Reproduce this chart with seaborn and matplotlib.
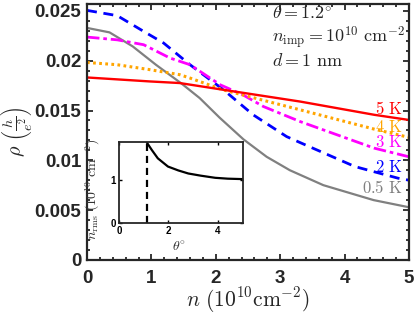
import matplotlib as mpl
mpl.use("Agg")
import matplotlib.pyplot as plt
from matplotlib.ticker import AutoMinorLocator, FuncFormatter
import seaborn as sns

# rho(n), one set per temperature
n_05K = [0.0, 0.35, 0.71, 1.07, 1.47, 1.75, 2.06, 2.43, 2.79, 3.15, 3.67, 4.45, 5.0]
rho_05K = [0.0233, 0.02285, 0.02144, 0.0196, 0.0177, 0.01625, 0.01428, 0.0121,
           0.01035, 0.0090, 0.0075, 0.0060, 0.00528]

n_2K = [0.0, 0.47, 0.88, 1.19, 1.6, 2.12, 2.58, 3.1, 3.33, 4.16, 4.83, 5.0]
rho_2K = [0.02506, 0.02453, 0.02295, 0.02178, 0.0196, 0.01708, 0.01457, 0.01238,
          0.01172, 0.00937, 0.0082, 0.0080]

n_3K = [0.0, 0.47, 0.88, 1.29, 1.6, 2.07, 2.42, 2.74, 3.31, 4.46, 5.0]
rho_3K = [0.02238, 0.0221, 0.02161, 0.02027, 0.0196, 0.01758, 0.01658, 0.0154,
          0.01389, 0.01122, 0.01035]

n_4K = [0.0, 0.47, 0.98, 1.44, 1.6, 2.11, 3.31, 4.46, 5.0]
rho_4K = [0.01983, 0.0196, 0.0191, 0.0186, 0.01826, 0.01708, 0.01507, 0.01313, 0.0123]

n_5K = [0.0, 0.98, 1.44, 2.12, 3.31, 4.46, 5.0]
rho_5K = [0.01832, 0.01792, 0.01776, 0.01708, 0.0159, 0.01457, 0.01405]

# inset: n_rms vs twist angle
theta_deg = [1.12, 1.33, 1.57, 1.98, 2.4, 2.8, 3.3, 3.89, 4.4, 5.0]
n_rms = [1.87, 1.69, 1.50, 1.31, 1.22, 1.15, 1.10, 1.05, 1.03, 1.02]
theta_mark = 1.12

temp_labels = ["0.5 K", "2 K", "3 K", "4 K", "5 K"]

AX_COLOR = "#262626"

sns.set_style("ticks")
mpl.rcParams["font.family"] = ["Liberation Sans", "DejaVu Sans"]
mpl.rcParams["mathtext.fontset"] = "cm"
mpl.rcParams["axes.edgecolor"] = AX_COLOR
mpl.rcParams["xtick.color"] = AX_COLOR
mpl.rcParams["ytick.color"] = AX_COLOR

fig = plt.figure(figsize=(4.15, 3.16), dpi=100)
ax = fig.add_axes([0.2096, 0.1778, 0.7759, 0.8095])

curves = [
    (n_05K, rho_05K, "#808080", "-", 1.6),
    (n_2K, rho_2K, "#0000ff", (0, (3.6, 2.4)), 2.0),
    (n_3K, rho_3K, "#ff00ff", (0, (4.5, 1.4, 1.3, 1.4)), 2.0),
    (n_4K, rho_4K, "#ffa500", (0, (0.9, 1.1)), 2.2),
    (n_5K, rho_5K, "#ff0000", "-", 1.7),
]
for x, y, col, ls, lw in curves:
    sns.lineplot(x=x, y=y, ax=ax, color=col, linestyle=ls, linewidth=lw)

ax.set_xlim(0, 5)
ax.set_ylim(0, 0.0257)
ax.set_xticks([0, 1, 2, 3, 4, 5])
ax.set_yticks([0, 0.005, 0.01, 0.015, 0.02, 0.025])
ax.yaxis.set_major_formatter(FuncFormatter(lambda v, p: "%g" % v))
ax.xaxis.set_minor_locator(AutoMinorLocator(5))
ax.yaxis.set_minor_locator(AutoMinorLocator(5))
ax.tick_params(which="both", direction="in", top=True, right=True, width=1.3)
ax.tick_params(which="major", length=4, labelsize=13.5)
ax.tick_params(which="minor", length=2.5)
ax.tick_params(axis="x", pad=7)
ax.tick_params(axis="y", pad=4)
for lbl in ax.get_xticklabels() + ax.get_yticklabels():
    lbl.set_fontweight("bold")
for sp in ax.spines.values():
    sp.set_linewidth(1.6)

ax.set_xlabel(r"$n\ (10^{10}\mathrm{cm}^{-2})$", fontsize=15.5)
ax.set_ylabel(r"$\rho\ \left(\frac{h}{e^2}\right)$", fontsize=14.5)
ax.xaxis.set_label_coords(0.5, -0.1)
ax.yaxis.set_label_coords(-0.166, 0.5)

ax.text(0.574, 0.94, r"$\theta = 1.2^{\circ}$", transform=ax.transAxes,
        fontsize=13, va="baseline")
ax.text(0.574, 0.847, r"$n_{\rm imp} = 10^{10}\ \mathrm{cm}^{-2}$",
        transform=ax.transAxes, fontsize=13, va="baseline")
ax.text(0.574, 0.757, r"$d = 1\ \mathrm{nm}$", transform=ax.transAxes,
        fontsize=13, va="baseline")

label_y = [0.260, 0.344, 0.440, 0.501, 0.570]
for (x, y, col, ls, lw), lab, ly in zip(curves, temp_labels, label_y):
    ax.text(0.981, ly, r"$\mathrm{%s}$" % lab.replace(" ", r"\ "),
            transform=ax.transAxes, color=col, fontsize=12,
            ha="right", va="baseline")

# inset
axin = fig.add_axes([0.2867, 0.2934, 0.298, 0.2563])
axin.set_facecolor("white")
sns.lineplot(x=theta_deg, y=n_rms, ax=axin, color="black", linewidth=1.6)
axin.axvline(theta_mark, color="black", linestyle=(0, (3.2, 2.2)), linewidth=1.6)
axin.set_xlim(0, 5)
axin.set_ylim(0, 1.87)
axin.set_xticks([0, 2, 4])
axin.set_yticks([0, 1])
axin.tick_params(direction="in", top=True, right=True, length=2, width=1,
                 labelsize=7, pad=2, colors="black")
for lbl in axin.get_xticklabels() + axin.get_yticklabels():
    lbl.set_fontweight("bold")
for sp in axin.spines.values():
    sp.set_linewidth(1.3)
    sp.set_color(AX_COLOR)
axin.set_xlabel(r"$\theta^{\circ}$", fontsize=10, color="#333333")
axin.set_ylabel(r"$n_{\rm rms}\ (10^{10}\ \mathrm{cm}^{-2})$", fontsize=10,
                color="#333333")
axin.xaxis.set_label_coords(0.49, -0.2)
axin.yaxis.set_label_coords(-0.14, 0.42)

fig.savefig("out.png", dpi=100)
